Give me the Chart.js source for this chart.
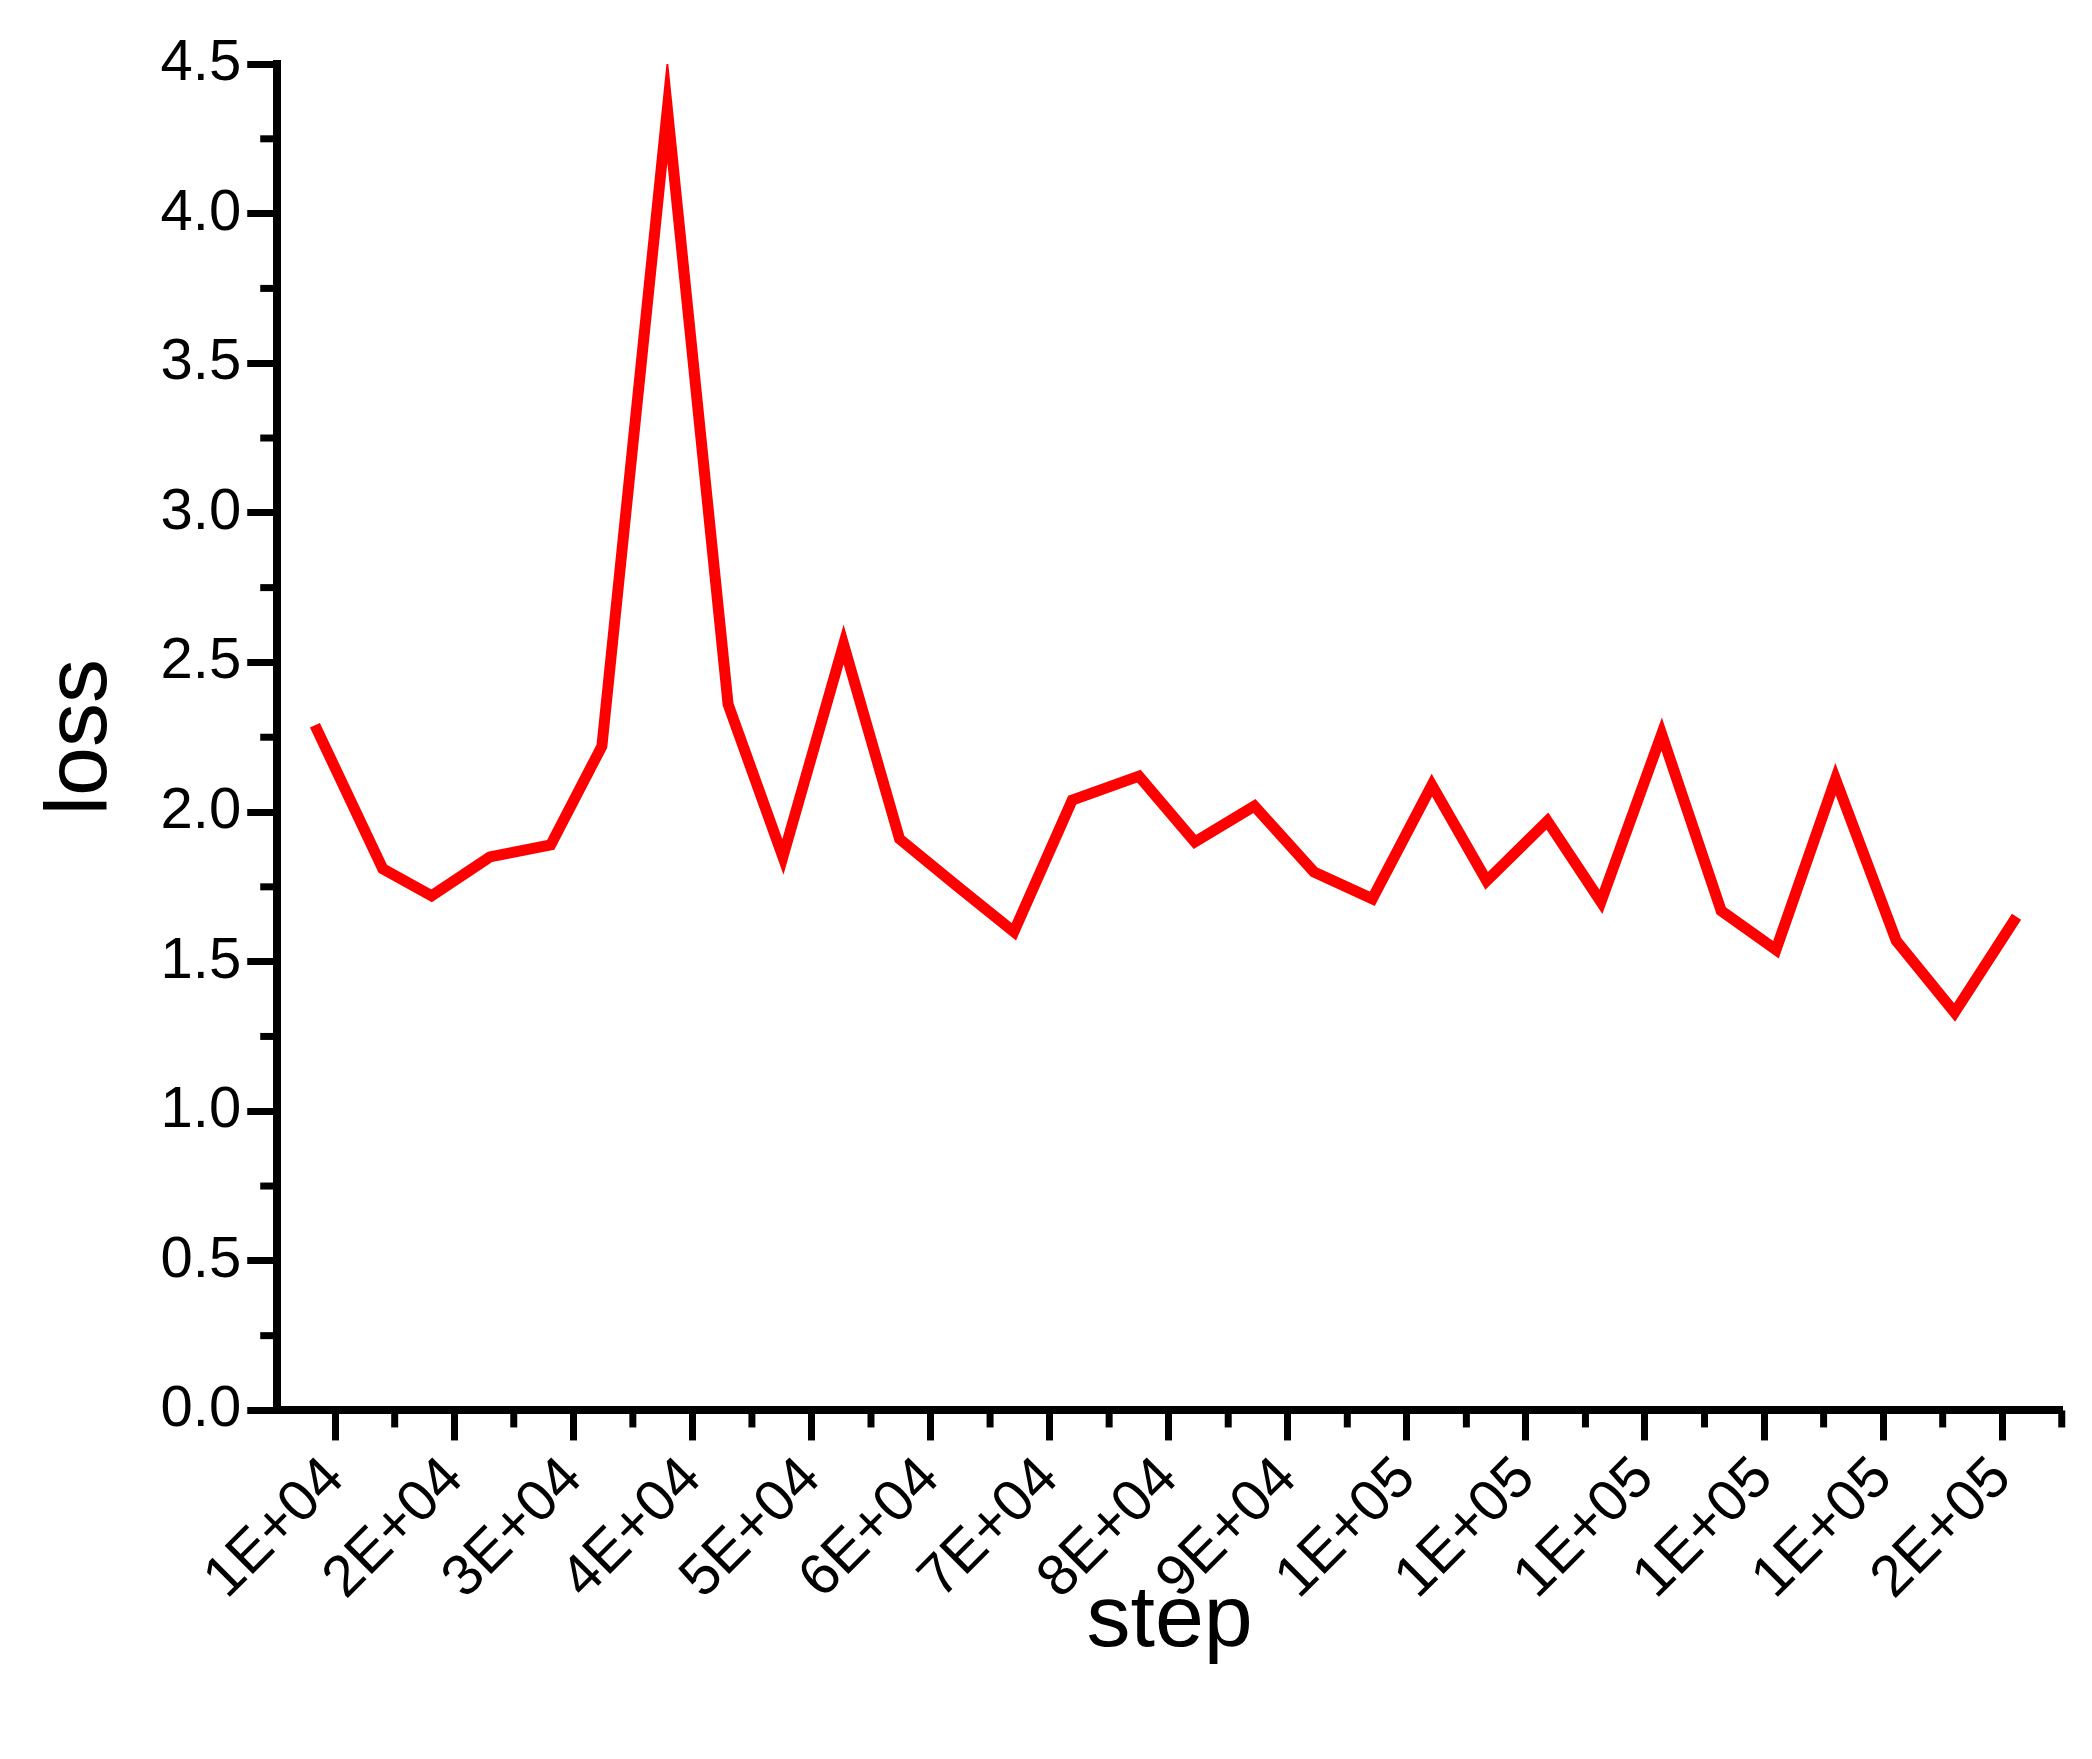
<!DOCTYPE html>
<html>
<head>
<meta charset="utf-8">
<script src="https://cdn.jsdelivr.net/npm/chart.js@4.4.1/dist/chart.umd.min.js"></script>
<style>
  html, body { margin: 0; padding: 0; background: #fff; }
  #wrap { width: 2092px; height: 1759px; }
</style>
</head>
<body>
<div id="wrap"><canvas id="grafica"></canvas></div>
<script>
// valores
const steps = [8300, 14000, 18100, 23000, 28100, 32400, 37900, 43000, 47600, 52700,
  57400, 62300, 67000, 71900, 77500, 82200, 87200, 92200, 97100, 102100,
  106700, 111800, 116300, 121400, 126400, 131000, 136000, 141100, 146000, 151200];
const loss = [2.29, 1.81, 1.72, 1.85, 1.89, 2.22, 4.35, 2.36, 1.85, 2.56,
  1.91, 1.75, 1.60, 2.04, 2.12, 1.90, 2.02, 1.80, 1.71, 2.09,
  1.77, 1.97, 1.70, 2.26, 1.67, 1.54, 2.11, 1.57, 1.33, 1.65];
const xTicks = [10000, 20000, 30000, 40000, 50000, 60000, 70000, 80000, 90000, 100000,
  110000, 120000, 130000, 140000, 150000];
const xTickLabels = ['1E+04', '2E+04', '3E+04', '4E+04', '5E+04', '6E+04', '7E+04', '8E+04',
  '9E+04', '1E+05', '1E+05', '1E+05', '1E+05', '1E+05', '2E+05'];

const FONT = 'Liberation Sans, Arial, sans-serif';

// ticks menores (entre los mayores)
const minorTicks = {
  id: 'minorTicks',
  afterDraw(chart) {
    const ctx = chart.ctx;
    const x = chart.scales.x, y = chart.scales.y;
    ctx.save();
    ctx.strokeStyle = '#000';
    ctx.lineWidth = 7;
    for (let v = 5000; v < x.max; v += 10000) {
      if (v < x.min) continue;
      const px = x.getPixelForValue(v);
      ctx.beginPath(); ctx.moveTo(px, y.bottom); ctx.lineTo(px, y.bottom + 17); ctx.stroke();
    }
    for (let v = 0.25; v < y.max; v += 0.5) {
      const py = y.getPixelForValue(v);
      ctx.beginPath(); ctx.moveTo(x.left, py); ctx.lineTo(x.left - 17, py); ctx.stroke();
    }
    ctx.restore();
  }
};

new Chart(document.getElementById('grafica'), {
  type: 'line',
  data: {
    datasets: [{
      data: steps.map((s, i) => ({ x: s, y: loss[i] })),
      borderColor: '#ff0000',
      borderWidth: 11,
      pointRadius: 0,
      tension: 0,
      fill: false
    }]
  },
  options: {
    responsive: true,
    maintainAspectRatio: false,
    animation: false,
    layout: { padding: { left: 25, right: 30, top: 64, bottom: 80 } },
    plugins: { legend: { display: false }, tooltip: { enabled: false } },
    scales: {
      x: {
        type: 'linear',
        min: 5136,
        max: 155020,
        afterBuildTicks: (scale) => { scale.ticks = xTicks.map(v => ({ value: v })); },
        border: { display: true, color: '#000', width: 8 },
        grid: { drawOnChartArea: false, color: '#000', tickLength: 30, tickWidth: 7 },
        ticks: {
          color: '#000',
          font: { family: FONT, size: 58 },
          maxRotation: 45,
          minRotation: 45,
          padding: 4,
          callback: (v) => { const i = xTicks.indexOf(v); return i >= 0 ? xTickLabels[i] : ''; }
        },
        title: { display: true, text: 'step', color: '#000', font: { family: FONT, size: 88 }, padding: { top: -48 } }
      },
      y: {
        min: 0,
        max: 4.5,
        border: { display: true, color: '#000', width: 8 },
        grid: { drawOnChartArea: false, color: '#000', tickLength: 30, tickWidth: 7 },
        ticks: {
          stepSize: 0.5,
          color: '#000',
          font: { family: FONT, size: 58 },
          padding: 6,
          callback: (v) => v.toFixed(1)
        },
        title: { display: true, text: 'loss', color: '#000', font: { family: FONT, size: 88 }, padding: { bottom: 20 } }
      }
    }
  },
  plugins: [minorTicks]
});
</script>
</body>
</html>
